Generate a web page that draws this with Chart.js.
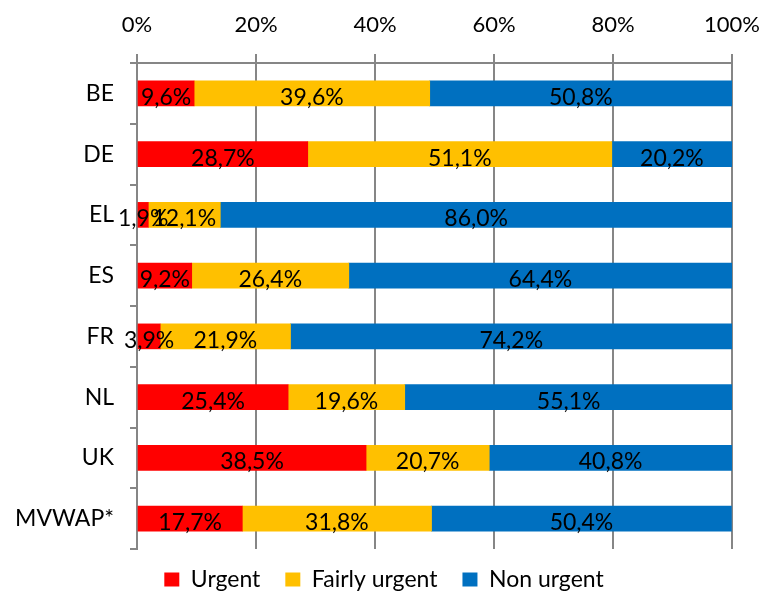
<!DOCTYPE html>
<html>
<head>
<meta charset="utf-8">
<script src="https://cdn.jsdelivr.net/npm/chart.js@4.4.1/dist/chart.umd.min.js"></script>
<style>
  html, body { margin: 0; padding: 0; background: #fff; }
  #wrap { width: 768px; height: 594px; }
</style>
</head>
<body>
<div id="wrap"><canvas id="urgencyChart"></canvas></div>
<script>
// Share of cases per urgency level, by country (percent)
const countries = ['BE', 'DE', 'EL', 'ES', 'FR', 'NL', 'UK', 'MVWAP*'];
const urgent = [9.6, 28.7, 1.9, 9.2, 3.9, 25.4, 38.5, 17.7];
const fairlyUrgent = [39.6, 51.1, 12.1, 26.4, 21.9, 19.6, 20.7, 31.8];
const nonUrgent = [50.8, 20.2, 86.0, 64.4, 74.2, 55.1, 40.8, 50.4];
const xTicks = [0, 20, 40, 60, 80, 100];

const FONT = 'Lato, "Open Sans", sans-serif';
const axisGrey = '#868686';

const fmt = v => v.toFixed(1).replace('.', ',') + '%';

// Writes each segment's value in the middle of its bar piece
const segmentLabels = {
    id: 'segmentLabels',
    afterDatasetsDraw(chart) {
        const ctx = chart.ctx;
        ctx.save();
        ctx.font = '23px ' + FONT;
        ctx.fillStyle = '#000';
        ctx.textAlign = 'center';
        ctx.textBaseline = 'middle';
        chart.data.datasets.forEach((ds, di) => {
            const meta = chart.getDatasetMeta(di);
            meta.data.forEach((bar, i) => {
                const cx = (bar.x + bar.base) / 2;
                ctx.fillText(fmt(ds.data[i]), cx, bar.y + 4);
            });
        });
        ctx.restore();
    }
};

// Centre the legend on the whole canvas and pull it up a little
const legendPlacement = {
    id: 'legendPlacement',
    afterLayout(chart) {
        const lg = chart.legend;
        lg.left = 0;
        lg.right = chart.width;
        lg.top -= 6;
        lg.bottom -= 6;
    }
};

const ctx = document.getElementById('urgencyChart').getContext('2d');
new Chart(ctx, {
    type: 'bar',
    data: {
        labels: countries,
        datasets: [
            { label: 'Urgent', data: urgent, backgroundColor: '#FF0000' },
            { label: 'Fairly urgent', data: fairlyUrgent, backgroundColor: '#FFC000' },
            { label: 'Non urgent', data: nonUrgent, backgroundColor: '#0070C0' }
        ]
    },
    options: {
        indexAxis: 'y',
        responsive: true,
        maintainAspectRatio: false,
        animation: false,
        barThickness: 25,
        layout: { padding: { left: 0, top: 0, right: 36, bottom: -13 } },
        plugins: {
            legend: {
                position: 'bottom',
                labels: {
                    boxWidth: 15,
                    boxHeight: 14,
                    padding: 25,
                    color: '#000',
                    font: { family: FONT, size: 23 }
                }
            },
            tooltip: { enabled: false }
        },
        scales: {
            x: {
                position: 'top',
                stacked: true,
                min: 0,
                max: 100,
                afterBuildTicks: scale => { scale.ticks = xTicks.map(v => ({ value: v })); },
                afterFit: scale => {
                    scale.height = 63;
                    scale.paddingLeft = 0;
                    scale.paddingRight = 0;
                },
                ticks: {
                    color: '#000',
                    padding: 16,
                    maxRotation: 0,
                    font: { family: FONT, size: 22 },
                    callback: v => v + '%'
                },
                grid: { color: axisGrey, lineWidth: 2, tickLength: 9 },
                border: { color: axisGrey, width: 2 }
            },
            y: {
                stacked: true,
                afterFit: scale => { scale.width = 137; },
                ticks: {
                    color: '#000',
                    padding: 16,
                    font: { family: FONT, size: 23 }
                },
                grid: { drawOnChartArea: false, color: axisGrey, lineWidth: 2, tickLength: 7 },
                border: { color: axisGrey, width: 2 }
            }
        }
    },
    plugins: [segmentLabels, legendPlacement]
});
</script>
</body>
</html>
